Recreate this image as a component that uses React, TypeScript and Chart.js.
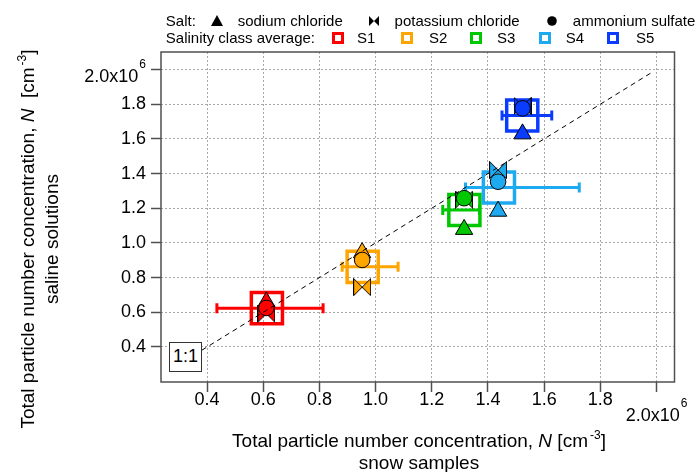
import React, { useEffect, useRef } from 'react';
import { Chart, registerables } from 'chart.js';

Chart.register(...registerables);

const FONT = '"Liberation Sans", Arial, Helvetica, sans-serif';

// Values in 10^6 cm^-3 (x: snow samples, y: saline solutions)
const classLabels = ['S1', 'S2', 'S3', 'S4', 'S5'];
const classColors = ['#ff0000', '#ffa500', '#00c800', '#1eaaf0', '#0a3cff'];
const classAvgX = [0.613, 0.954, 1.316, 1.439, 1.522];
const classAvgY = [0.624, 0.862, 1.19, 1.32, 1.735];
const classErrXLow = [0.435, 0.881, 1.239, 1.32, 1.45];
const classErrXHigh = [0.813, 1.08, 1.37, 1.725, 1.627];

const saltX = [0.611, 0.952, 1.315, 1.436, 1.523];
const sodiumChlorideY = [0.66, 0.944, 1.078, 1.183, 1.629];
const potassiumChlorideY = [0.592, 0.745, 1.25, 1.42, 1.79];
const ammoniumSulfateY = [0.625, 0.902, 1.258, 1.353, 1.776];

const oneToOneLine = [0.3, 1.99];
const tickValues = [0.4, 0.6, 0.8, 1.0, 1.2, 1.4, 1.6, 1.8, 2.0];
const tickLabels = ['0.4', '0.6', '0.8', '1.0', '1.2', '1.4', '1.6', '1.8', '2.0x10'];
const tickExponent = '6';
const xRange = [0.236, 2.064];
const yRange = [0.198, 2.101];

function makeBowtie(color: string, size = 18): HTMLCanvasElement {
  const c = document.createElement('canvas');
  c.width = size;
  c.height = size;
  const g = c.getContext('2d')!;
  const a = 0.5;
  const b = size - 0.5;
  g.beginPath();
  g.moveTo(a, a);
  g.lineTo(b, b);
  g.lineTo(b, a);
  g.lineTo(a, b);
  g.closePath();
  g.fillStyle = color;
  g.fill();
  g.strokeStyle = '#000';
  g.lineWidth = 1;
  g.stroke();
  return c;
}

const frameAndExpPlugin = {
  id: 'frameAndExp',
  afterDatasetsDraw(chart: any) {
    const { ctx, chartArea: a, scales } = chart;
    ctx.save();
    ctx.strokeStyle = '#505050';
    ctx.lineWidth = 1.5;
    ctx.strokeRect(a.left, a.top, a.right - a.left, a.bottom - a.top);

    const last = tickValues.length - 1;
    const base = tickLabels[last];
    ctx.fillStyle = '#000';
    ctx.textBaseline = 'middle';
    ctx.font = `18px ${FONT}`;
    const wb = ctx.measureText(base).width;
    ctx.font = `12px ${FONT}`;
    const we = ctx.measureText(tickExponent).width;

    const px = scales.x.getPixelForValue(tickValues[last]);
    const x0 = px - (wb + 1 + we) / 2;
    ctx.textAlign = 'left';
    ctx.font = `18px ${FONT}`;
    ctx.fillText(base, x0, a.bottom + 34);
    ctx.font = `12px ${FONT}`;
    ctx.fillText(tickExponent, x0 + wb + 1, a.bottom + 22);

    const py = scales.y.getPixelForValue(tickValues[last]);
    const xr = a.left - 15;
    ctx.textAlign = 'right';
    ctx.font = `12px ${FONT}`;
    ctx.fillText(tickExponent, xr, py - 4.5);
    ctx.font = `18px ${FONT}`;
    ctx.fillText(base, xr - we - 1, py + 7.5);
    ctx.restore();
  },
};

function tickCallback(_v: any, index: number) {
  return index < tickValues.length - 1 ? tickLabels[index] : '';
}

function ChartCanvas() {
  const ref = useRef<HTMLCanvasElement>(null);
  useEffect(() => {
    const canvas = ref.current;
    if (!canvas) return;
    const bowties = classColors.map((c) => makeBowtie(c));
    const datasets: any[] = [];
    datasets.push({
      label: '1:1',
      data: oneToOneLine.map((v) => ({ x: v, y: v })),
      showLine: true,
      borderColor: '#000',
      borderWidth: 1,
      borderDash: [5, 4],
      pointRadius: 0,
      order: 0,
    });
    datasets.push({
      label: 'ammonium sulfate',
      data: saltX.map((x, i) => ({ x, y: ammoniumSulfateY[i] })),
      pointStyle: 'circle',
      pointRadius: 7.8,
      pointBackgroundColor: classColors,
      pointBorderColor: '#000',
      pointBorderWidth: 1,
      order: 1,
    });
    datasets.push({
      label: 'potassium chloride',
      data: saltX.map((x, i) => ({ x, y: potassiumChlorideY[i] })),
      pointStyle: bowties,
      pointRadius: 9,
      order: 2,
    });
    datasets.push({
      label: 'sodium chloride',
      data: saltX.map((x, i) => ({ x, y: sodiumChlorideY[i] })),
      pointStyle: 'triangle',
      pointRadius: 10,
      pointBackgroundColor: classColors,
      pointBorderColor: '#000',
      pointBorderWidth: 1,
      order: 3,
    });
    classLabels.forEach((lab, i) => {
      datasets.push({
        label: lab + ' error',
        data: [
          { x: classErrXLow[i], y: classAvgY[i] },
          { x: classErrXHigh[i], y: classAvgY[i] },
        ],
        showLine: true,
        borderColor: classColors[i],
        borderWidth: 3,
        pointStyle: 'line',
        pointRotation: 90,
        pointRadius: 5,
        pointBorderColor: classColors[i],
        pointBorderWidth: 3,
        order: 4,
      });
    });
    datasets.push({
      label: 'class average',
      data: classAvgX.map((x, i) => ({ x, y: classAvgY[i] })),
      pointStyle: 'rect',
      pointRadius: 22,
      pointBackgroundColor: 'rgba(0,0,0,0)',
      pointBorderColor: classColors,
      pointBorderWidth: 3.5,
      order: 5,
    });

    const tickFont = { family: FONT, size: 18, lineHeight: 1 };
    const gridOpts = {
      color: '#a8a8a8',
      lineWidth: 1,
      drawTicks: true,
      tickLength: 10,
      tickColor: '#505050',
      tickWidth: 1.5,
      borderDash: [2, 2],
      tickBorderDash: [],
    };
    const chart = new Chart(canvas, {
      type: 'scatter',
      data: { datasets },
      plugins: [frameAndExpPlugin],
      options: {
        responsive: false,
        animation: false,
        layout: { padding: { left: 0, right: 23, top: 52, bottom: 0 } },
        plugins: { legend: { display: false }, tooltip: { enabled: false } },
        scales: {
          x: {
            type: 'linear',
            min: xRange[0],
            max: xRange[1],
            afterBuildTicks: (s: any) => {
              s.ticks = tickValues.map((v) => ({ value: v }));
            },
            afterFit: (s: any) => {
              s.height = 90;
            },
            ticks: {
              autoSkip: false,
              maxRotation: 0,
              font: tickFont,
              color: '#000',
              padding: -1,
              callback: tickCallback,
            },
            grid: gridOpts,
            border: { display: false, dash: [2, 2] },
          },
          y: {
            type: 'linear',
            min: yRange[0],
            max: yRange[1],
            afterBuildTicks: (s: any) => {
              s.ticks = tickValues.map((v) => ({ value: v }));
            },
            afterFit: (s: any) => {
              s.width = 161;
            },
            ticks: {
              autoSkip: false,
              font: tickFont,
              color: '#000',
              padding: 5,
              callback: tickCallback,
            },
            grid: gridOpts,
            border: { display: false, dash: [2, 2] },
          },
        },
      } as any,
    });
    return () => chart.destroy();
  }, []);
  return <canvas ref={ref} width={700} height={472} style={{ display: 'block' }} />;
}

const sup: React.CSSProperties = { fontSize: 12, position: 'relative', top: -8, marginLeft: 2 };

function Txt({ x, y, children }: { x: number; y: number; children: React.ReactNode }) {
  return (
    <span style={{ position: 'absolute', left: x, top: y - 9, fontSize: 15, lineHeight: '18px', whiteSpace: 'nowrap' }}>
      {children}
    </span>
  );
}

function Legend() {
  const r1 = 21;
  const r2 = 38;
  const squareX = [337.7, 406.8, 476, 544.7, 613];
  const squareLabelX = [357, 429, 497, 565.8, 636];
  return (
    <>
      <Txt x={165.8} y={r1}>Salt:</Txt>
      <svg style={{ position: 'absolute', left: 216.7 - 6, top: r1 - 6 }} width={12} height={11}>
        <polygon points="6,0 12,11 0,11" fill="#000" />
      </svg>
      <Txt x={237.7} y={r1}>sodium chloride</Txt>
      <svg style={{ position: 'absolute', left: 373.5 - 5, top: r1 - 5 }} width={10} height={10}>
        <polygon points="0,0 10,10 10,0 0,10" fill="#000" />
      </svg>
      <Txt x={394.6} y={r1}>potassium chloride</Txt>
      <svg style={{ position: 'absolute', left: 551.8 - 5, top: r1 - 5 }} width={10} height={10}>
        <circle cx={5} cy={5} r={4.8} fill="#000" />
      </svg>
      <Txt x={572.8} y={r1}>ammonium sulfate</Txt>

      <Txt x={165.8} y={r2}>Salinity class average:</Txt>
      {classLabels.map((lab, i) => (
        <React.Fragment key={lab}>
          <div
            style={{
              position: 'absolute',
              left: squareX[i] - 6,
              top: r2 - 6,
              width: 12,
              height: 12,
              boxSizing: 'border-box',
              border: `3px solid ${classColors[i]}`,
              background: '#fff',
            }}
          />
          <Txt x={squareLabelX[i]} y={r2}>{lab}</Txt>
        </React.Fragment>
      ))}
    </>
  );
}

export default function App() {
  return (
    <div
      style={{
        position: 'absolute',
        left: 0,
        top: 0,
        width: 700,
        height: 472,
        overflow: 'hidden',
        background: '#fff',
        fontFamily: FONT,
        color: '#000',
      }}
    >
      <ChartCanvas />
      <Legend />
      <div
        style={{
          position: 'absolute',
          left: 169,
          top: 342,
          width: 33,
          height: 30,
          boxSizing: 'border-box',
          border: '1.5px solid #333',
          background: '#fff',
          fontSize: 18,
          lineHeight: '27px',
          textAlign: 'center',
        }}
      >
        1:1
      </div>
      <div
        style={{
          position: 'absolute',
          left: 39 - 220,
          top: 239 - 22,
          width: 440,
          height: 44,
          transform: 'rotate(-90deg)',
          transformOrigin: '50% 50%',
          textAlign: 'center',
          fontSize: 19,
          lineHeight: '22px',
          whiteSpace: 'nowrap',
        }}
      >
        <div>
          Total particle number concentration, <i>N</i>&nbsp; [cm<span style={sup}>-3</span>]
        </div>
        <div>saline solutions</div>
      </div>
      <div
        style={{
          position: 'absolute',
          left: 161,
          top: 431,
          width: 516,
          textAlign: 'center',
          fontSize: 19,
          lineHeight: '20px',
          whiteSpace: 'nowrap',
        }}
      >
        <div>
          Total particle number concentration, <i>N</i> [cm<span style={sup}>-3</span>]
        </div>
        <div>snow samples</div>
      </div>
    </div>
  );
}
